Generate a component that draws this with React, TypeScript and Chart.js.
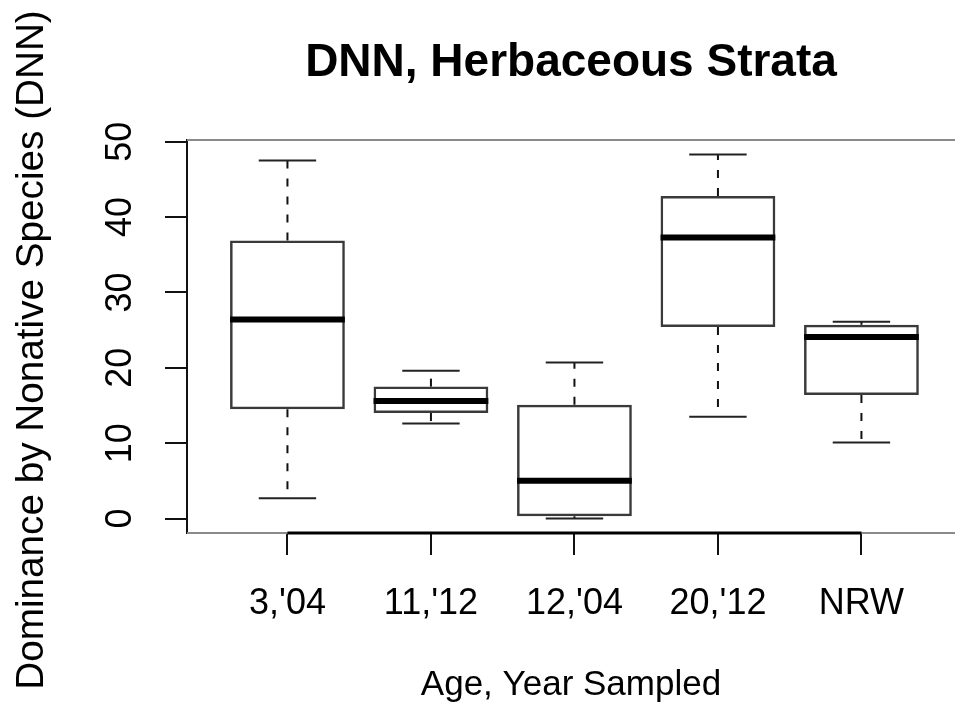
import React, { useEffect, useRef } from "react";
import { Chart, registerables } from "chart.js";

Chart.register(...registerables);

const categories = ["3,'04", "11,'12", "12,'04", "20,'12", "NRW"];
const lowerWhisker = [2.7, 12.6, 0.0, 13.5, 10.1];
const q1 = [14.5, 14.0, 0.3, 25.4, 16.4];
const median = [26.4, 15.6, 5.0, 37.3, 24.1];
const q3 = [36.9, 17.5, 15.1, 42.8, 25.7];
const upperWhisker = [47.5, 19.6, 20.7, 48.3, 26.1];
const yTicks = [0, 10, 20, 30, 40, 50];

const TITLE = "DNN, Herbaceous Strata";
const X_TITLE = "Age, Year Sampled";
const Y_TITLE = "Dominance by Nonative Species (DNN)";

const BOX_WIDTH = 0.8;
const FONT = "'Liberation Sans', Arial, sans-serif";

const boxParts = {
  id: "boxParts",
  afterDatasetsDraw(chart: any) {
    const { ctx, scales } = chart;
    const x = scales.x;
    const y = scales.y;
    const seg = (x1: number, y1: number, x2: number, y2: number) => {
      ctx.beginPath();
      ctx.moveTo(x1, y1);
      ctx.lineTo(x2, y2);
      ctx.stroke();
    };
    ctx.save();
    categories.forEach((_, i) => {
      const cx = x.getPixelForValue(i + 1);
      const half = x.getPixelForValue(i + 1 + BOX_WIDTH / 2) - cx;
      const capHalf = half / 2;
      const yU = y.getPixelForValue(upperWhisker[i]);
      const yL = y.getPixelForValue(lowerWhisker[i]);
      const yQ1 = y.getPixelForValue(q1[i]);
      const yQ3 = y.getPixelForValue(q3[i]);
      const yM = y.getPixelForValue(median[i]);
      ctx.strokeStyle = "#111";
      ctx.lineWidth = 2;
      ctx.setLineDash([8, 10]);
      seg(cx, yQ3, cx, yU);
      seg(cx, yQ1, cx, yL);
      ctx.setLineDash([]);
      ctx.strokeStyle = "#222";
      seg(cx - capHalf, yU, cx + capHalf, yU);
      seg(cx - capHalf, yL, cx + capHalf, yL);
      ctx.strokeStyle = "#000";
      ctx.lineWidth = 6;
      seg(cx - half, yM, cx + half, yM);
    });
    ctx.restore();
  },
  afterDraw(chart: any) {
    const { ctx, chartArea, scales } = chart;
    const x = scales.x;
    ctx.save();
    ctx.strokeStyle = "#8a8a8a";
    ctx.lineWidth = 2;
    ctx.beginPath();
    ctx.moveTo(chartArea.left, chartArea.top);
    ctx.lineTo(chartArea.right, chartArea.top);
    ctx.moveTo(chartArea.left, chartArea.bottom);
    ctx.lineTo(chartArea.right, chartArea.bottom);
    ctx.stroke();
    ctx.strokeStyle = "#000";
    ctx.lineWidth = 3;
    ctx.beginPath();
    ctx.moveTo(x.getPixelForValue(1), chartArea.bottom);
    ctx.lineTo(x.getPixelForValue(categories.length), chartArea.bottom);
    ctx.stroke();

    // y-axis title, rotated, centred on the label band
    ctx.fillStyle = "#000";
    ctx.font = `38.7px ${FONT}`;
    ctx.textAlign = "center";
    ctx.textBaseline = "middle";
    ctx.translate(32, 350);
    ctx.rotate(-Math.PI / 2);
    ctx.fillText(Y_TITLE, 0, 0);
    ctx.restore();
  },
};

export default function App() {
  const ref = useRef<HTMLCanvasElement>(null);
  useEffect(() => {
    if (!ref.current) return;
    const chart = new Chart(ref.current, {
      type: "bar",
      data: {
        datasets: [
          {
            data: categories.map((_, i) => ({ x: i + 1, y: [q1[i], q3[i]] })) as any,
            backgroundColor: "rgba(255,255,255,0)",
            borderColor: "#3a3a3a",
            borderWidth: 2.5,
            borderSkipped: false,
            categoryPercentage: BOX_WIDTH,
            barPercentage: 1,
          },
        ],
      },
      options: {
        animation: false,
        responsive: false,
        devicePixelRatio: 1,
        layout: { padding: 0 },
        plugins: {
          legend: { display: false },
          tooltip: { enabled: false },
          title: {
            display: true,
            text: TITLE,
            color: "#000",
            fullSize: false,
            font: { family: FONT, size: 46, weight: "bold", lineHeight: 1.2 },
            padding: { top: 35.5, bottom: 49.3 },
          },
        },
        scales: {
          x: {
            type: "linear",
            offset: false,
            min: 0.3,
            max: 5.652,
            afterBuildTicks: (s: any) => {
              s.ticks = categories.map((_, i) => ({ value: i + 1 }));
            },
            afterFit: (s: any) => {
              s.height = 184;
            },
            ticks: {
              autoSkip: false,
              maxRotation: 0,
              color: "#000",
              padding: 27,
              font: { family: FONT, size: 36 },
              callback: (v: any) => categories[Math.round(Number(v)) - 1] ?? "",
            },
            grid: {
              display: true,
              offset: false,
              drawOnChartArea: false,
              drawTicks: true,
              tickLength: 22,
              tickColor: "#111",
              tickWidth: 2,
              lineWidth: 2,
            },
            border: { display: false },
            title: {
              display: true,
              text: X_TITLE,
              color: "#000",
              font: { family: FONT, size: 35, lineHeight: 1.2 },
              padding: { top: 0, bottom: 11 },
            },
          },
          y: {
            type: "linear",
            min: -1.924,
            max: 50.226,
            afterBuildTicks: (s: any) => {
              s.ticks = yTicks.map((v) => ({ value: v }));
            },
            afterFit: (s: any) => {
              s.width = 187;
            },
            ticks: {
              autoSkip: false,
              minRotation: 90,
              maxRotation: 90,
              crossAlign: "center",
              padding: 23.5,
              color: "#000",
              font: { family: FONT, size: 36 },
            },
            grid: {
              display: true,
              drawOnChartArea: false,
              drawTicks: true,
              tickLength: 22,
              tickColor: "#111",
              tickWidth: 2,
              lineWidth: 2,
            },
            border: { display: true, color: "#111", width: 2 },
            title: { display: false },
          },
        },
      },
      plugins: [boxParts],
    });
    return () => chart.destroy();
  }, []);
  return (
    <div style={{ position: "absolute", left: 0, top: 0, width: 955, height: 717, background: "#fff" }}>
      <canvas ref={ref} width={955} height={717} style={{ display: "block" }} />
    </div>
  );
}
